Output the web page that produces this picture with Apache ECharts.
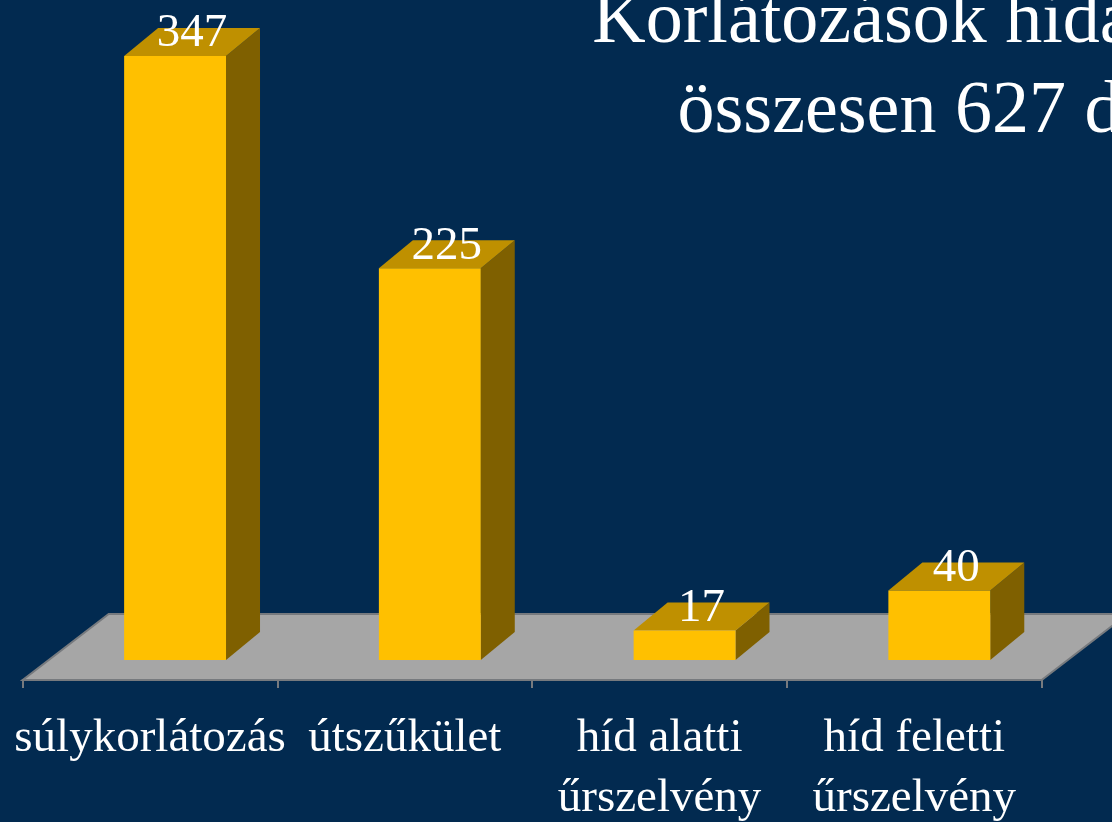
<!DOCTYPE html>
<html>
<head>
<meta charset="utf-8">
<script src="https://cdn.jsdelivr.net/npm/echarts@6/dist/echarts.min.js"></script>
<style>
html,body{margin:0;padding:0;background:#022a50;}
#chart{width:1112px;height:822px;}
</style>
</head>
<body>
<div id="chart"></div>
<script>
const categories = ['súlykorlátozás', 'útszűkület', 'híd alatti\nűrszelvény', 'híd feletti\nűrszelvény'];
const values = [347, 225, 17, 40];
const titleLines = ['Korlátozások hidakon', 'összesen 627 db'];

const FONT = "'Liberation Serif', 'Times New Roman', serif";
const FRONT = '#FFC000', SIDE = '#7F6000', TOP = '#BF9000';
const FLOOR = '#A6A6A6', EDGE = '#777A7E';

const chart = echarts.init(document.getElementById('chart'), null, {renderer: 'canvas'});

function renderFloor(params, api) {
  if (params.dataIndex !== 0) return null;
  const cs = params.coordSys;
  const fy = cs.y + cs.height;
  const ddx = 86, ddy = -66;
  return {
    type: 'polygon',
    shape: {points: [[cs.x, fy], [cs.x + cs.width, fy], [cs.x + cs.width + ddx, fy + ddy], [cs.x + ddx, fy + ddy]]},
    style: {fill: FLOOR, stroke: EDGE, lineWidth: 2}
  };
}

function renderBar(params, api) {
  const i = api.value(0), v = api.value(1);
  const base = api.coord([i, 0]);
  const top = api.coord([i, v]);
  const band = api.size([1, 0])[0];
  const hw = band * 0.2;
  const sh = 25;
  const x0 = base[0] - hw + sh, x1 = base[0] + hw + sh;
  const yb = base[1], yt = top[1];
  const dx = 34, dy = -28;
  return {
    type: 'group',
    children: [
      {type: 'polygon', shape: {points: [[x1, yt], [x1 + dx, yt + dy], [x1 + dx, yb + dy], [x1, yb]]}, style: {fill: SIDE}},
      {type: 'polygon', shape: {points: [[x0, yt], [x1, yt], [x1 + dx, yt + dy], [x0 + dx, yt + dy]]}, style: {fill: TOP}},
      {type: 'rect', shape: {x: x0, y: yt, width: x1 - x0, height: yb - yt}, style: {fill: FRONT}},
      {type: 'text', x: (x0 + x1) / 2 + dx / 2, y: yt - 22,
        style: {text: String(v), fill: '#fff', font: '47px ' + FONT, align: 'center', verticalAlign: 'middle'}}
    ]
  };
}

const data = categories.map((c, i) => [i, values[i]]);

chart.setOption({
  backgroundColor: '#022a50',
  animation: false,
  title: {
    text: titleLines.join('\n'),
    left: 913,
    top: -27,
    textAlign: 'center',
    textStyle: {color: '#fff', fontFamily: FONT, fontWeight: 'normal', fontSize: 74, lineHeight: 90}
  },
  grid: {left: 22.7, right: 70.3, top: 50.8, bottom: 142, containLabel: false, outerBoundsMode: 'none'},
  xAxis: {
    type: 'category',
    data: categories,
    z: 5,
    axisLine: {show: true, onZero: false, lineStyle: {color: EDGE, width: 2}},
    axisTick: {show: true, length: 8, lineStyle: {color: EDGE, width: 2}},
    axisLabel: {color: '#fff', fontFamily: FONT, fontSize: 47, lineHeight: 60, margin: 29, interval: 0}
  },
  yAxis: {type: 'value', min: -11.49, max: 350, show: false, splitLine: {show: false}},
  series: [
    {type: 'custom', renderItem: renderFloor, data: data, clip: false, z: 1, silent: true},
    {type: 'custom', renderItem: renderBar, data: data, clip: false, z: 2}
  ]
});
</script>
</body>
</html>
